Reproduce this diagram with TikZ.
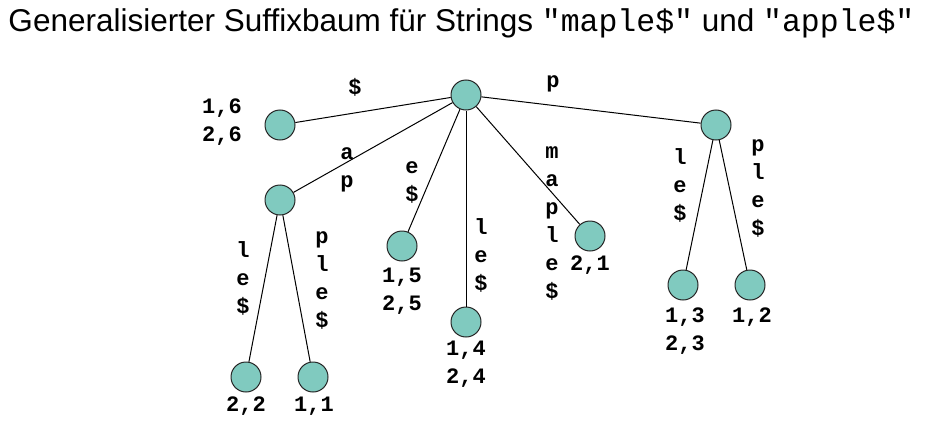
\documentclass[tikz,border=0pt]{standalone}
\usepackage{fontspec}
\setmainfont{Liberation Sans}
\setmonofont{Liberation Mono}
\usetikzlibrary{positioning}
\definecolor{knoten}{RGB}{128,202,191}

\begin{document}
\begin{tikzpicture}[x=1pt,y=-1pt,line width=1pt]
    \tikzstyle{point}=[circle,draw=black!85,fill=knoten,minimum size=30pt,inner sep=0pt]
    \tikzstyle{zeichen}=[font=\fontsize{22}{28}\selectfont\ttfamily\bfseries,align=center,inner sep=0pt]
    \useasboundingbox (0,0) rectangle (925,428);
    \node[font=\fontsize{31.5}{34}\selectfont,anchor=west,inner sep=0pt] (titel) at (8,23)
      {Generalisierter Suffixbaum für Strings \texttt{"maple\$"} und \texttt{"apple\$"}};
    % Baum
    \node[point] (wurzel) at (466,95) {};
    \node[point] (dollar) at (280,125) {}
      edge (wurzel);
    \node[point] (ap) at (280,200) {}
      edge (wurzel);
    \node[point] (e) at (402,246) {}
      edge (wurzel);
    \node[point] (le) at (466,322) {}
      edge (wurzel);
    \node[point] (maple) at (590,236) {}
      edge (wurzel);
    \node[point] (p) at (716,125) {}
      edge (wurzel);
    \node[point] (aple) at (246,377) {}
      edge (ap);
    \node[point] (apple) at (313,377) {}
      edge (ap);
    \node[point] (ple) at (683,285) {}
      edge (p);
    \node[point] (pple) at (750,285) {}
      edge (p);
    % Kantenbeschriftung
    \node[zeichen] (k-dollar) at (355,87) {\$};
    \node[zeichen] (k-p) at (553,84) {p};
    \node[zeichen] (k-ap) at (347,170) {a\\p};
    \node[zeichen] (k-e) at (412,182) {e\\\$};
    \node[zeichen] (k-le) at (481,255) {l\\e\\\$};
    \node[zeichen] (k-maple) at (552,223) {m\\a\\p\\l\\e\\\$};
    \node[zeichen] (k-ple) at (680,185) {l\\e\\\$};
    \node[zeichen] (k-pple) at (758,188) {p\\l\\e\\\$};
    \node[zeichen] (k-aple) at (243,278) {l\\e\\\$};
    \node[zeichen] (k-apple) at (322,280) {p\\l\\e\\\$};
    % Blattbeschriftung
    \node[zeichen] (b-dollar) at (222,122) {1,6\\2,6};
    \node[zeichen] (b-e) at (402,291) {1,5\\2,5};
    \node[zeichen] (b-le) at (466,364) {1,4\\2,4};
    \node[zeichen] (b-maple) at (590,265) {2,1};
    \node[zeichen] (b-ple) at (685,331) {1,3\\2,3};
    \node[zeichen] (b-pple) at (752,317) {1,2};
    \node[zeichen] (b-aple) at (246,406) {2,2};
    \node[zeichen] (b-apple) at (314,406) {1,1};
\end{tikzpicture}
\end{document}
